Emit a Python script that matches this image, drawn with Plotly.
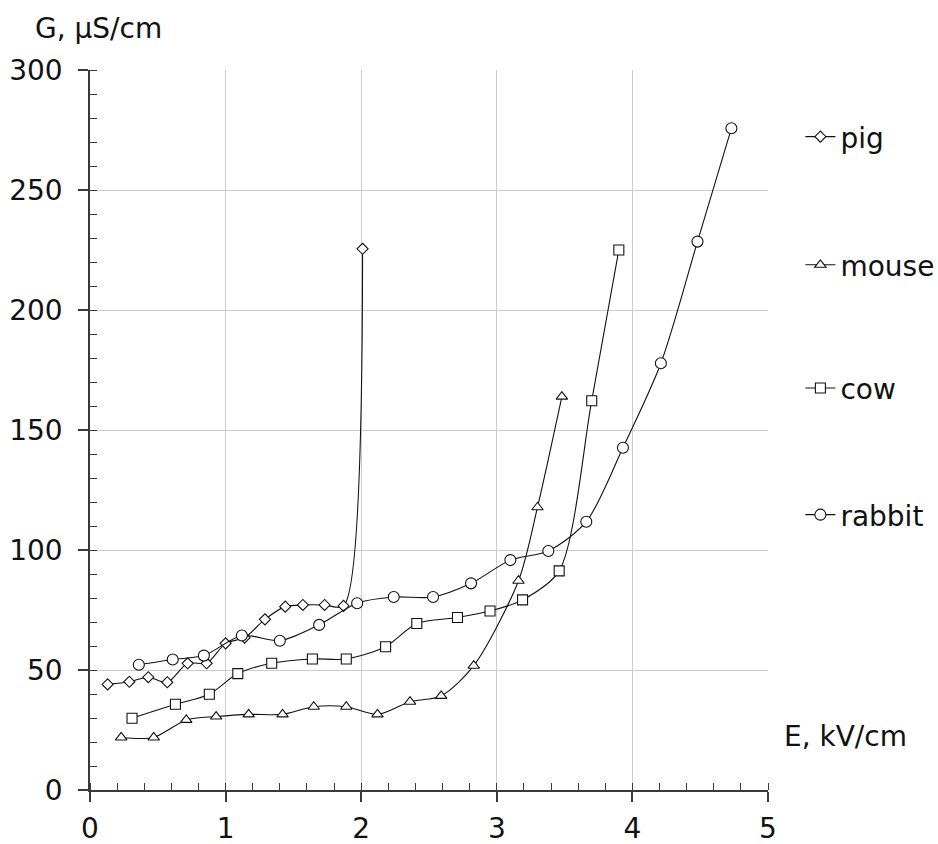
import plotly.graph_objects as go

# ---- data ----
pig_x = [0.13, 0.29, 0.43, 0.57, 0.72, 0.86, 1.00, 1.14, 1.29, 1.44, 1.57, 1.73, 1.87, 2.01]
pig_y = [44.0, 45.1, 47.0, 44.9, 52.8, 52.8, 61.1, 63.5, 71.1, 76.4, 77.1, 77.1, 76.7, 225.5]

mouse_x = [0.23, 0.47, 0.71, 0.93, 1.17, 1.42, 1.65, 1.89, 2.12, 2.36, 2.59, 2.83, 3.16, 3.30, 3.48]
mouse_y = [21.9, 21.9, 29.2, 30.6, 31.5, 31.5, 34.7, 34.7, 31.5, 36.8, 39.2, 51.8, 87.2, 117.8, 163.9]

cow_x = [0.31, 0.63, 0.88, 1.09, 1.34, 1.64, 1.89, 2.18, 2.41, 2.71, 2.95, 3.19, 3.46, 3.70, 3.90]
cow_y = [29.9, 35.7, 39.9, 48.5, 52.8, 54.6, 54.6, 59.7, 69.4, 71.9, 74.6, 79.2, 91.3, 162.2, 225.0]

rabbit_x = [0.36, 0.61, 0.84, 1.12, 1.40, 1.69, 1.97, 2.24, 2.53, 2.81, 3.10, 3.38, 3.66, 3.93, 4.21, 4.48, 4.73]
rabbit_y = [52.2, 54.4, 56.0, 64.4, 62.2, 68.8, 77.8, 80.4, 80.4, 86.1, 95.8, 99.6, 111.8, 142.6, 177.8, 228.5, 275.7]

series_names = ["pig", "mouse", "cow", "rabbit"]
x_ticks = [0, 1, 2, 3, 4, 5]
y_ticks = [0, 50, 100, 150, 200, 250, 300]

FONT = "DejaVu Sans"
FS = 28
TXT = "#111111"
AX = "#3a3a3a"

series = [
    (pig_x, pig_y, "diamond", 8.5),
    (mouse_x, mouse_y, "triangle-up", 10),
    (cow_x, cow_y, "square", 10),
    (rabbit_x, rabbit_y, "circle", 11),
]
legend_ids = ["legend", "legend2", "legend3", "legend4"]
legend_y = [0.907, 0.729, 0.558, 0.382]

fig = go.Figure()
for (xs, ys, sym, sz), name, lid in zip(series, series_names, legend_ids):
    fig.add_trace(go.Scatter(
        x=xs, y=ys, name=name, mode="lines+markers",
        line=dict(color="#111111", width=1.1, shape="spline", smoothing=0.8),
        marker=dict(symbol=sym, size=sz, color="white",
                    line=dict(color="#111111", width=1.1)),
        legend=lid,
    ))

legend_common = dict(
    font=dict(family=FONT, size=FS, color=TXT),
    bgcolor="rgba(0,0,0,0)", borderwidth=0,
    xanchor="left", yanchor="middle", itemsizing="trace",
    xref="container", yref="paper",
    x=0.8533,
)
layout_legends = {}
for lid, ly in zip(legend_ids, legend_y):
    layout_legends[lid] = dict(legend_common, y=ly)

fig.update_layout(
    width=938, height=844,
    margin=dict(l=90, r=170, t=70, b=54),
    paper_bgcolor="white", plot_bgcolor="white",
    font=dict(family=FONT, size=FS, color=TXT),
    showlegend=True,
    **layout_legends,
)

fig.update_xaxes(
    range=[0, 5], tickvals=x_ticks, ticktext=[str(v) for v in x_ticks],
    showgrid=True, gridcolor="#cccccc", gridwidth=1,
    showline=True, linecolor=AX, linewidth=1.5,
    ticks="outside", ticklen=10, tickcolor=AX, tickwidth=1.5,
    ticklabelstandoff=3, automargin=False,
    minor=dict(dtick=0.2, ticks="inside", ticklen=7, tickcolor=AX, tickwidth=1.2, showgrid=False),
    zeroline=False, tickfont=dict(family=FONT, size=FS, color=TXT),
)
fig.update_yaxes(
    range=[0, 300], tickvals=y_ticks, ticktext=[str(v) for v in y_ticks],
    showgrid=True, gridcolor="#cccccc", gridwidth=1,
    showline=True, linecolor=AX, linewidth=1.5,
    ticks="outside", ticklen=10, tickcolor=AX, tickwidth=1.5,
    ticklabelstandoff=10, automargin=False,
    minor=dict(dtick=10, ticks="inside", ticklen=7, tickcolor=AX, tickwidth=1.2, showgrid=False),
    zeroline=False, tickfont=dict(family=FONT, size=FS, color=TXT),
)

fig.add_annotation(text="G, µS/cm", xref="paper", yref="paper",
                   x=-0.0841, y=1.0583, xanchor="left", yanchor="middle",
                   showarrow=False, font=dict(family=FONT, size=FS, color=TXT))
fig.add_annotation(text="E, kV/cm", xref="paper", yref="paper",
                   x=1.021, y=0.075, xanchor="left", yanchor="middle",
                   showarrow=False, font=dict(family=FONT, size=FS, color=TXT))

# remove the page's default 8px body margin so the figure sits at the window origin
fig.write_html("out.html", config={"displayModeBar": False},
               post_script="document.body.style.margin='0';")
